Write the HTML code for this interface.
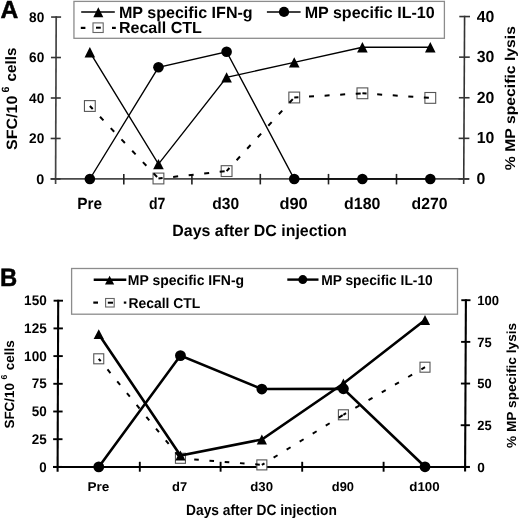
<!DOCTYPE html>
<html><head><meta charset="utf-8"><style>
html,body{margin:0;padding:0;background:#fff;width:520px;height:519px;overflow:hidden}
svg{display:block;filter:grayscale(1)}
text{font-family:"Liberation Sans",sans-serif;font-weight:bold;fill:#000;text-rendering:geometricPrecision}
</style></head><body>
<svg width="520" height="519" viewBox="0 0 520 519">
<text x="0.5" y="18.1" font-size="24.8" text-anchor="start" textLength="17.8" lengthAdjust="spacingAndGlyphs" stroke="#000" stroke-width="0.5">A</text>
<rect x="73.95" y="1.4" width="370.45" height="36.9" fill="none" stroke="#8c8c8c" stroke-width="1.3"/>
<line x1="81.2" y1="12.0" x2="114.8" y2="12.0" stroke="#000" stroke-width="1.5"/>
<path d="M98.3 7.2 L103.3 17.3 L93.3 17.3 Z" fill="#000"/>
<text x="118.9" y="17.8" font-size="16.2" text-anchor="start" textLength="133.8" lengthAdjust="spacingAndGlyphs" >MP specific IFN-g</text>
<line x1="266.9" y1="12.0" x2="300.6" y2="12.0" stroke="#000" stroke-width="1.4"/>
<circle cx="284" cy="11.9" r="5.1" fill="#000"/>
<text x="304.7" y="17.8" font-size="16.2" text-anchor="start" textLength="130.0" lengthAdjust="spacingAndGlyphs" >MP specific IL-10</text>
<line x1="80.8" y1="27.9" x2="85.4" y2="27.9" stroke="#000" stroke-width="2.2"/>
<line x1="112" y1="27.9" x2="115.8" y2="27.9" stroke="#000" stroke-width="2.2"/>
<rect x="93" y="22.9" width="10.2" height="9.6" fill="#fff" stroke="#666" stroke-width="1.1"/>
<line x1="96" y1="27.7" x2="100.8" y2="27.7" stroke="#000" stroke-width="2"/>
<text x="118.9" y="33.3" font-size="16.0" text-anchor="start" textLength="83.0" lengthAdjust="spacingAndGlyphs" >Recall CTL</text>
<line x1="56.2" y1="16.3" x2="55.6" y2="184.0" stroke="#444" stroke-width="1.7"/>
<line x1="464.6" y1="15.8" x2="463.7" y2="184.0" stroke="#333" stroke-width="1.6"/>
<line x1="50.8" y1="178.85" x2="469.3" y2="178.85" stroke="#4a4a4a" stroke-width="1.9"/>
<line x1="50.52" y1="178.95" x2="60.52" y2="178.95" stroke="#333" stroke-width="1.6"/>
<text x="44.2" y="183.55" font-size="14" text-anchor="end" textLength="8.0" lengthAdjust="spacingAndGlyphs" >0</text>
<line x1="50.66" y1="138.47" x2="60.66" y2="138.47" stroke="#333" stroke-width="1.6"/>
<text x="44.3" y="143.07" font-size="14" text-anchor="end" textLength="15.2" lengthAdjust="spacingAndGlyphs" >20</text>
<line x1="50.81" y1="98.00" x2="60.81" y2="98.00" stroke="#333" stroke-width="1.6"/>
<text x="44.3" y="102.60" font-size="14" text-anchor="end" textLength="15.2" lengthAdjust="spacingAndGlyphs" >40</text>
<line x1="50.95" y1="57.52" x2="60.95" y2="57.52" stroke="#333" stroke-width="1.6"/>
<text x="44.3" y="62.12" font-size="14" text-anchor="end" textLength="15.2" lengthAdjust="spacingAndGlyphs" >60</text>
<line x1="51.10" y1="17.05" x2="61.10" y2="17.05" stroke="#333" stroke-width="1.6"/>
<text x="44.3" y="21.65" font-size="14" text-anchor="end" textLength="15.2" lengthAdjust="spacingAndGlyphs" >80</text>
<line x1="458.43" y1="178.95" x2="469.13" y2="178.95" stroke="#333" stroke-width="1.6"/>
<text x="476.5" y="184.45" font-size="16" text-anchor="start" textLength="8.8" lengthAdjust="spacingAndGlyphs" >0</text>
<line x1="458.64" y1="138.35" x2="469.34" y2="138.35" stroke="#333" stroke-width="1.6"/>
<text x="476.7" y="143.45" font-size="16" text-anchor="start" textLength="17.6" lengthAdjust="spacingAndGlyphs" >10</text>
<line x1="458.86" y1="97.75" x2="469.56" y2="97.75" stroke="#333" stroke-width="1.6"/>
<text x="476.7" y="102.85" font-size="16" text-anchor="start" textLength="17.6" lengthAdjust="spacingAndGlyphs" >20</text>
<line x1="459.08" y1="57.15" x2="469.78" y2="57.15" stroke="#333" stroke-width="1.6"/>
<text x="476.7" y="62.25" font-size="16" text-anchor="start" textLength="17.6" lengthAdjust="spacingAndGlyphs" >30</text>
<line x1="459.30" y1="16.55" x2="470.00" y2="16.55" stroke="#333" stroke-width="1.6"/>
<text x="476.7" y="21.65" font-size="16" text-anchor="start" textLength="17.6" lengthAdjust="spacingAndGlyphs" >40</text>
<line x1="123.80" y1="173.9" x2="123.80" y2="184.4" stroke="#222" stroke-width="1.6"/>
<line x1="191.90" y1="173.9" x2="191.90" y2="184.4" stroke="#222" stroke-width="1.6"/>
<line x1="260.30" y1="173.9" x2="260.30" y2="184.4" stroke="#222" stroke-width="1.6"/>
<line x1="328.50" y1="173.9" x2="328.50" y2="184.4" stroke="#222" stroke-width="1.6"/>
<line x1="396.50" y1="173.9" x2="396.50" y2="184.4" stroke="#222" stroke-width="1.6"/>
<text x="89.6" y="208.6" font-size="16.2" text-anchor="middle" textLength="24.8" lengthAdjust="spacingAndGlyphs" >Pre</text>
<text x="157.1" y="208.6" font-size="16.2" text-anchor="middle" textLength="16.4" lengthAdjust="spacingAndGlyphs" >d7</text>
<text x="225.75" y="208.6" font-size="16.2" text-anchor="middle" textLength="26.9" lengthAdjust="spacingAndGlyphs" >d30</text>
<text x="293.55" y="208.6" font-size="16.2" text-anchor="middle" textLength="28.3" lengthAdjust="spacingAndGlyphs" >d90</text>
<text x="362.25" y="208.6" font-size="16.2" text-anchor="middle" textLength="36.3" lengthAdjust="spacingAndGlyphs" >d180</text>
<text x="429.55" y="208.6" font-size="16.2" text-anchor="middle" textLength="35.9" lengthAdjust="spacingAndGlyphs" >d270</text>
<text x="172.3" y="236.2" font-size="16.2" text-anchor="start" textLength="174.5" lengthAdjust="spacingAndGlyphs" >Days after DC injection</text>
<g transform="translate(16.5,150.0) rotate(-90)"><text x="0" y="0" font-size="15" text-anchor="start" textLength="54.4" lengthAdjust="spacingAndGlyphs" >SFC/10</text></g>
<g transform="translate(8.6,92.4) rotate(-90)"><text x="0" y="0" font-size="10.5" text-anchor="start" textLength="6.0" lengthAdjust="spacingAndGlyphs" >6</text></g>
<g transform="translate(16.4,81.4) rotate(-90)"><text x="0" y="0" font-size="15" text-anchor="start" textLength="33.8" lengthAdjust="spacingAndGlyphs" >cells</text></g>
<g transform="translate(515.3,170.2) rotate(-90)"><text x="0" y="0" font-size="14.2" text-anchor="start" textLength="144.2" lengthAdjust="spacingAndGlyphs" >% MP specific lysis</text></g>
<rect x="84.45" y="100.6" width="10.8" height="10.8" fill="#fff" stroke="#555" stroke-width="1.1"/>
<rect x="153.05" y="173.1" width="10.8" height="10.8" fill="#fff" stroke="#555" stroke-width="1.1"/>
<rect x="221.20" y="165.7" width="10.8" height="10.8" fill="#fff" stroke="#555" stroke-width="1.1"/>
<rect x="288.85" y="92.1" width="10.8" height="10.8" fill="#fff" stroke="#555" stroke-width="1.1"/>
<rect x="357.00" y="87.89999999999999" width="10.8" height="10.8" fill="#fff" stroke="#555" stroke-width="1.1"/>
<rect x="424.90" y="92.5" width="10.8" height="10.8" fill="#fff" stroke="#555" stroke-width="1.1"/>
<line x1="89.85" y1="106" x2="158.45" y2="178.5" stroke="#000" stroke-width="2.0" stroke-dasharray="5 10.6" stroke-dashoffset="0.8"/><line x1="158.45" y1="178.5" x2="226.60" y2="171.1" stroke="#000" stroke-width="2.0" stroke-dasharray="5 10.6" stroke-dashoffset="0.8"/><line x1="226.60" y1="171.1" x2="294.25" y2="97.5" stroke="#000" stroke-width="2.0" stroke-dasharray="5 10.6" stroke-dashoffset="0.8"/><line x1="294.25" y1="97.5" x2="362.40" y2="93.3" stroke="#000" stroke-width="2.0" stroke-dasharray="5 10.6" stroke-dashoffset="0.8"/><line x1="362.40" y1="93.3" x2="430.30" y2="97.9" stroke="#000" stroke-width="2.0" stroke-dasharray="5 10.6" stroke-dashoffset="0.8"/>
<polyline points="89.85,52.2 158.45,164.1 226.60,77.4 294.25,62.4 362.40,47.3 430.30,47.3" fill="none" stroke="#000" stroke-width="1.4"/>
<polyline points="89.85,179 158.45,67.3 226.60,51.75 294.25,179 362.40,179 430.30,179" fill="none" stroke="#000" stroke-width="1.4"/>
<path d="M89.85 47.00 L95.15 57.40 L84.55 57.40 Z" fill="#000"/>
<path d="M158.45 158.90 L163.75 169.30 L153.15 169.30 Z" fill="#000"/>
<path d="M226.60 72.20 L231.90 82.60 L221.30 82.60 Z" fill="#000"/>
<path d="M294.25 57.20 L299.55 67.60 L288.95 67.60 Z" fill="#000"/>
<path d="M362.40 42.10 L367.70 52.50 L357.10 52.50 Z" fill="#000"/>
<path d="M430.30 42.10 L435.60 52.50 L425.00 52.50 Z" fill="#000"/>
<circle cx="89.85" cy="179" r="5.3" fill="#000"/>
<circle cx="158.45" cy="67.3" r="5.3" fill="#000"/>
<circle cx="226.60" cy="51.75" r="5.3" fill="#000"/>
<circle cx="294.25" cy="179" r="5.3" fill="#000"/>
<circle cx="362.40" cy="179" r="5.3" fill="#000"/>
<circle cx="430.30" cy="179" r="5.3" fill="#000"/>
<text x="-0.1" y="285.6" font-size="25.2" text-anchor="start" textLength="17.2" lengthAdjust="spacingAndGlyphs" stroke="#000" stroke-width="0.5">B</text>
<rect x="71.6" y="268.5" width="385.9" height="45.7" fill="none" stroke="#8c8c8c" stroke-width="1.3"/>
<line x1="93.7" y1="279.8" x2="126.3" y2="279.8" stroke="#000" stroke-width="2.4"/>
<path d="M109.6 275.8 L114.2 284.5 L105 284.5 Z" fill="#000"/>
<text x="127.8" y="284.9" font-size="14.2" text-anchor="start" textLength="116.3" lengthAdjust="spacingAndGlyphs" >MP specific IFN-g</text>
<line x1="287.3" y1="279.6" x2="318.5" y2="279.6" stroke="#000" stroke-width="2.4"/>
<circle cx="302.8" cy="279.6" r="4.5" fill="#000"/>
<text x="321.2" y="284.9" font-size="14.2" text-anchor="start" textLength="111.6" lengthAdjust="spacingAndGlyphs" >MP specific IL-10</text>
<line x1="93.3" y1="302.6" x2="98" y2="302.6" stroke="#000" stroke-width="2.2"/>
<line x1="123.8" y1="302.6" x2="126.3" y2="302.6" stroke="#000" stroke-width="2.2"/>
<rect x="105.6" y="298.5" width="8.6" height="8.5" fill="#fff" stroke="#666" stroke-width="1.1"/>
<line x1="107.8" y1="302.7" x2="113" y2="302.7" stroke="#000" stroke-width="2"/>
<text x="128.5" y="307.8" font-size="14.2" text-anchor="start" textLength="71.8" lengthAdjust="spacingAndGlyphs" >Recall CTL</text>
<line x1="58.2" y1="299.7" x2="57.6" y2="471.7" stroke="#000" stroke-width="2.1"/>
<line x1="465.9" y1="299.3" x2="465.1" y2="471.5" stroke="#000" stroke-width="2.1"/>
<line x1="53.2" y1="467.0" x2="469.8" y2="467.0" stroke="#000" stroke-width="2.1"/>
<line x1="53.02" y1="466.90" x2="62.42" y2="466.90" stroke="#000" stroke-width="1.9"/>
<text x="46.7" y="471.50" font-size="14" text-anchor="end" textLength="7.4" lengthAdjust="spacingAndGlyphs" >0</text>
<line x1="53.11" y1="439.20" x2="62.51" y2="439.20" stroke="#000" stroke-width="1.9"/>
<text x="46.7" y="443.80" font-size="14" text-anchor="end" textLength="15.0" lengthAdjust="spacingAndGlyphs" >25</text>
<line x1="53.21" y1="411.50" x2="62.61" y2="411.50" stroke="#000" stroke-width="1.9"/>
<text x="46.7" y="416.10" font-size="14" text-anchor="end" textLength="15.0" lengthAdjust="spacingAndGlyphs" >50</text>
<line x1="53.31" y1="383.80" x2="62.71" y2="383.80" stroke="#000" stroke-width="1.9"/>
<text x="46.7" y="388.40" font-size="14" text-anchor="end" textLength="15.0" lengthAdjust="spacingAndGlyphs" >75</text>
<line x1="53.40" y1="356.10" x2="62.80" y2="356.10" stroke="#000" stroke-width="1.9"/>
<text x="46.7" y="360.70" font-size="14" text-anchor="end" textLength="22.6" lengthAdjust="spacingAndGlyphs" >100</text>
<line x1="53.50" y1="328.40" x2="62.90" y2="328.40" stroke="#000" stroke-width="1.9"/>
<text x="46.7" y="333.00" font-size="14" text-anchor="end" textLength="22.6" lengthAdjust="spacingAndGlyphs" >125</text>
<line x1="53.60" y1="300.70" x2="63.00" y2="300.70" stroke="#000" stroke-width="1.9"/>
<text x="46.7" y="305.30" font-size="14" text-anchor="end" textLength="22.6" lengthAdjust="spacingAndGlyphs" >150</text>
<line x1="460.52" y1="466.90" x2="469.72" y2="466.90" stroke="#000" stroke-width="1.9"/>
<text x="477.3" y="471.60" font-size="13.4" text-anchor="start" textLength="7.6" lengthAdjust="spacingAndGlyphs" >0</text>
<line x1="460.71" y1="425.22" x2="469.91" y2="425.22" stroke="#000" stroke-width="1.9"/>
<text x="477.3" y="429.92" font-size="13.4" text-anchor="start" textLength="14.4" lengthAdjust="spacingAndGlyphs" >25</text>
<line x1="460.91" y1="383.55" x2="470.11" y2="383.55" stroke="#000" stroke-width="1.9"/>
<text x="477.3" y="388.25" font-size="13.4" text-anchor="start" textLength="14.4" lengthAdjust="spacingAndGlyphs" >50</text>
<line x1="461.10" y1="341.88" x2="470.30" y2="341.88" stroke="#000" stroke-width="1.9"/>
<text x="477.3" y="346.57" font-size="13.4" text-anchor="start" textLength="14.4" lengthAdjust="spacingAndGlyphs" >75</text>
<line x1="461.30" y1="300.20" x2="470.50" y2="300.20" stroke="#000" stroke-width="1.9"/>
<text x="477.3" y="304.90" font-size="13.4" text-anchor="start" textLength="21.8" lengthAdjust="spacingAndGlyphs" >100</text>
<line x1="139.80" y1="461.8" x2="139.80" y2="471.7" stroke="#000" stroke-width="1.9"/>
<line x1="220.60" y1="461.8" x2="220.60" y2="471.7" stroke="#000" stroke-width="1.9"/>
<line x1="302.20" y1="461.8" x2="302.20" y2="471.7" stroke="#000" stroke-width="1.9"/>
<line x1="383.60" y1="461.8" x2="383.60" y2="471.7" stroke="#000" stroke-width="1.9"/>
<text x="98.45" y="491.3" font-size="12.8" text-anchor="middle" textLength="21.9" lengthAdjust="spacingAndGlyphs" >Pre</text>
<text x="179.65" y="491.3" font-size="12.8" text-anchor="middle" textLength="15.1" lengthAdjust="spacingAndGlyphs" >d7</text>
<text x="261.7" y="491.3" font-size="12.8" text-anchor="middle" textLength="22.8" lengthAdjust="spacingAndGlyphs" >d30</text>
<text x="342.9" y="491.3" font-size="12.8" text-anchor="middle" textLength="22.2" lengthAdjust="spacingAndGlyphs" >d90</text>
<text x="424.5" y="491.3" font-size="12.8" text-anchor="middle" textLength="30.4" lengthAdjust="spacingAndGlyphs" >d100</text>
<text x="186.1" y="515.1" font-size="15.0" text-anchor="start" textLength="150.8" lengthAdjust="spacingAndGlyphs" >Days after DC injection</text>
<g transform="translate(14.3,428.5) rotate(-90)"><text x="0" y="0" font-size="13.4" text-anchor="start" textLength="45.4" lengthAdjust="spacingAndGlyphs" >SFC/10</text></g>
<g transform="translate(7.0,379.5) rotate(-90)"><text x="0" y="0" font-size="8.5" text-anchor="start" textLength="4.9" lengthAdjust="spacingAndGlyphs" >6</text></g>
<g transform="translate(14.4,370.2) rotate(-90)"><text x="0" y="0" font-size="13.4" text-anchor="start" textLength="29.8" lengthAdjust="spacingAndGlyphs" >cells</text></g>
<g transform="translate(516.0,448.0) rotate(-90)"><text x="0" y="0" font-size="13.2" text-anchor="start" textLength="125.2" lengthAdjust="spacingAndGlyphs" >% MP specific lysis</text></g>
<rect x="93.75" y="353.80" width="10" height="10" fill="#fff" stroke="#555" stroke-width="1.1"/>
<rect x="175.45" y="453.30" width="10" height="10" fill="#fff" stroke="#555" stroke-width="1.1"/>
<rect x="256.85" y="459.90" width="10" height="10" fill="#fff" stroke="#555" stroke-width="1.1"/>
<rect x="338.40" y="409.80" width="10" height="10" fill="#fff" stroke="#555" stroke-width="1.1"/>
<rect x="420.00" y="362.20" width="10" height="10" fill="#fff" stroke="#555" stroke-width="1.1"/>
<line x1="98.75" y1="358.8" x2="180.45" y2="458.3" stroke="#000" stroke-width="2.0" stroke-dasharray="4.6 10.7" stroke-dashoffset="1.5"/><line x1="180.45" y1="458.3" x2="261.85" y2="464.9" stroke="#000" stroke-width="2.0" stroke-dasharray="4.6 10.7" stroke-dashoffset="1.5"/><line x1="261.85" y1="464.9" x2="343.40" y2="414.8" stroke="#000" stroke-width="2.0" stroke-dasharray="4.6 10.7" stroke-dashoffset="1.5"/><line x1="343.40" y1="414.8" x2="425.00" y2="367.2" stroke="#000" stroke-width="2.0" stroke-dasharray="4.6 10.7" stroke-dashoffset="1.5"/>
<polyline points="98.75,334.2 180.45,455.5 261.85,439.5 343.40,383.5 425.00,320" fill="none" stroke="#000" stroke-width="2.6"/>
<polyline points="98.75,466.9 180.45,355.6 261.85,389.05 343.40,388.8 425.00,466.8" fill="none" stroke="#000" stroke-width="2.6"/>
<path d="M98.75 329.30 L103.85 339.10 L93.65 339.10 Z" fill="#000"/>
<path d="M180.45 450.60 L185.55 460.40 L175.35 460.40 Z" fill="#000"/>
<path d="M261.85 434.60 L266.95 444.40 L256.75 444.40 Z" fill="#000"/>
<path d="M343.40 378.60 L348.50 388.40 L338.30 388.40 Z" fill="#000"/>
<path d="M425.00 315.10 L430.10 324.90 L419.90 324.90 Z" fill="#000"/>
<circle cx="98.75" cy="466.9" r="5.4" fill="#000"/>
<circle cx="180.45" cy="355.6" r="5.4" fill="#000"/>
<circle cx="261.85" cy="389.05" r="5.4" fill="#000"/>
<circle cx="343.40" cy="388.8" r="5.4" fill="#000"/>
<circle cx="425.00" cy="466.8" r="5.4" fill="#000"/>
</svg>
</body></html>
